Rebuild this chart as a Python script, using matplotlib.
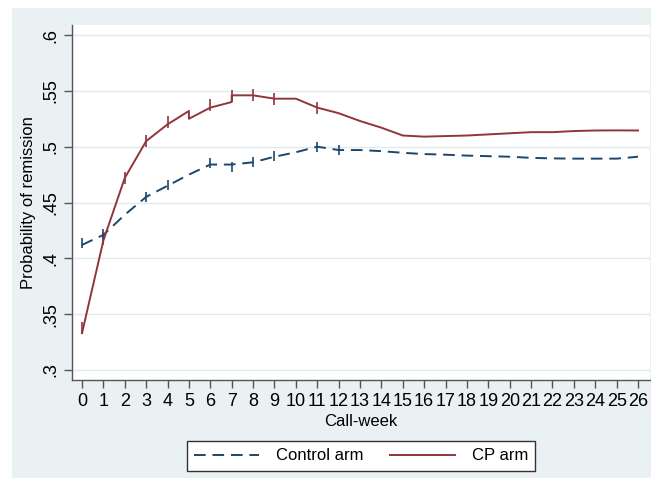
import matplotlib
matplotlib.use("Agg")
import matplotlib.pyplot as plt
from matplotlib.patches import Rectangle

plt.rcParams['font.family'] = ['Liberation Sans', 'DejaVu Sans']

weeks = list(range(27))
control = [0.412, 0.421, 0.439, 0.455, 0.465, 0.475, 0.484, 0.484, 0.486, 0.491,
           0.495, 0.500, 0.497, 0.497, 0.496, 0.4945, 0.4934, 0.4928, 0.492, 0.4915,
           0.491, 0.490, 0.4895, 0.4893, 0.4893, 0.4893, 0.491]
cp_x = [0, 1, 2, 3, 4, 5, 5, 6, 7, 7, 8, 9, 10, 11, 12, 13, 14, 15, 16, 17, 18, 19,
        20, 21, 22, 23, 24, 25, 26]
cp_y = [0.333, 0.416, 0.472, 0.505, 0.520, 0.532, 0.525, 0.535, 0.540, 0.546, 0.546,
        0.543, 0.543, 0.535, 0.530, 0.523, 0.517, 0.510, 0.509, 0.5095, 0.510, 0.511,
        0.512, 0.513, 0.513, 0.514, 0.5145, 0.5146, 0.5145]
cp_censor_x = [0, 1, 2, 3, 4, 6, 7, 8, 9, 11]
cp_censor_y = [0.338, 0.417, 0.472, 0.505, 0.522, 0.537, 0.545, 0.546, 0.543, 0.535]
ctl_censor_x = [0, 1, 3, 4, 6, 7, 8, 9, 11, 12]
ctl_censor_y = [0.414, 0.422, 0.455, 0.466, 0.485, 0.482, 0.486, 0.492, 0.5, 0.497]
yticks = [0.3, 0.35, 0.4, 0.45, 0.5, 0.55, 0.6]
ytick_labels = ['.3', '.35', '.4', '.45', '.5', '.55', '.6']

blue = '#1A476F'
red = '#90353B'
bg = '#EAF1F3'

W, H = 651, 478
fig = plt.figure(figsize=(W/100, H/100), dpi=100, facecolor='white')
fig.patches.append(Rectangle((12/W, 0), 1 - 12/W, 1 - 8/H, transform=fig.transFigure,
                             facecolor=bg, edgecolor='none', zorder=-10))
ax = fig.add_axes([72/W, 1 - 380/H, (650 - 72)/W, (380 - 25)/H])
ax.set_zorder(1)
ax.set_facecolor('white')

for y in yticks:
    ax.axhline(y, color='#E1EAEF', lw=1.0, zorder=0)

ax.plot(weeks, control, color=blue, lw=1.4, dashes=(6, 3.5), label='Control arm')
ax.plot(cp_x, cp_y, color=red, lw=1.4, label='CP arm')
ax.plot(cp_censor_x, cp_censor_y, ls='none', marker='|', ms=9, mew=1.2, color=red)
ax.plot(ctl_censor_x, ctl_censor_y, ls='none', marker='|', ms=7, mew=1.2, color=blue)

ax.set_xlim(-0.468, 26.56)
ax.set_ylim(0.291, 0.609)
ax.set_xticks(weeks)
ax.set_xticklabels([str(w) for w in weeks], fontsize=13)
ax.set_yticks(yticks)
ax.set_yticklabels(ytick_labels, fontsize=13, rotation=90, va='center')
for s in ['top', 'right']:
    ax.spines[s].set_visible(False)
for s in ['left', 'bottom']:
    ax.spines[s].set_color('#555555')
    ax.spines[s].set_linewidth(1.0)
ax.tick_params(direction='out', length=6, width=1, color='#555555', pad=3)
ax.set_xlabel('Call-week', fontsize=12, labelpad=3)
ax.set_ylabel('Probability of remission', fontsize=12, labelpad=5)

leg = fig.legend(loc='center', bbox_to_anchor=(361/W, 1 - 456/H), ncol=2,
                 frameon=True, fancybox=False, fontsize=12, handlelength=3.9,
                 columnspacing=1.6, borderpad=0.45, handletextpad=1.0)
leg.get_frame().set_edgecolor('#333333')
leg.get_frame().set_linewidth(1.0)
leg.get_frame().set_alpha(1.0)

fig.savefig('out.png', dpi=100, facecolor=fig.get_facecolor())
